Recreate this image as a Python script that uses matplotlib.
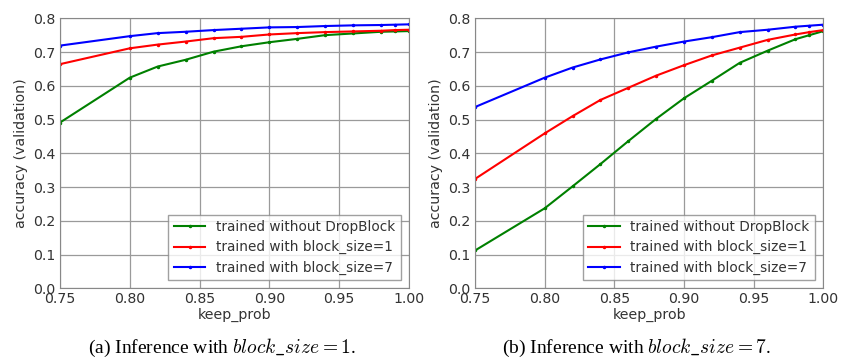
import matplotlib
matplotlib.use("Agg")
import matplotlib.pyplot as plt

keep_prob = [0.75, 0.80, 0.82, 0.84, 0.86, 0.88, 0.90, 0.92, 0.94, 0.96, 0.98, 0.99, 1.00]

# (a) inference with block_size = 1
a_no_drop = [0.491, 0.624, 0.657, 0.677, 0.701, 0.717, 0.729, 0.739, 0.750, 0.755, 0.760, 0.761, 0.762]
a_bs1 = [0.664, 0.711, 0.722, 0.731, 0.741, 0.745, 0.752, 0.756, 0.759, 0.761, 0.763, 0.765, 0.766]
a_bs7 = [0.719, 0.747, 0.756, 0.760, 0.765, 0.769, 0.773, 0.774, 0.777, 0.779, 0.780, 0.781, 0.782]

# (b) inference with block_size = 7
b_no_drop = [0.112, 0.237, 0.302, 0.368, 0.436, 0.502, 0.563, 0.615, 0.668, 0.704, 0.738, 0.750, 0.762]
b_bs1 = [0.324, 0.459, 0.510, 0.558, 0.594, 0.630, 0.661, 0.690, 0.713, 0.736, 0.752, 0.759, 0.765]
b_bs7 = [0.537, 0.624, 0.654, 0.678, 0.699, 0.716, 0.731, 0.744, 0.759, 0.766, 0.775, 0.778, 0.781]

labels = ["trained without DropBlock", "trained with block_size=1", "trained with block_size=7"]
colors = ["#008000", "#ff0000", "#0000ff"]
captions = [r"(a) Inference with $block\_size = 1$.", r"(b) Inference with $block\_size = 7$."]

plt.rcParams["font.family"] = "DejaVu Sans"
plt.rcParams["mathtext.fontset"] = "cm"

fig = plt.figure(figsize=(8.59, 3.61), dpi=100)
ax1 = fig.add_axes([0.0698, 0.2014, 0.4063, 0.748])
ax2 = fig.add_axes([0.553, 0.2014, 0.4055, 0.748])

for ax, series in [(ax1, [a_no_drop, a_bs1, a_bs7]), (ax2, [b_no_drop, b_bs1, b_bs7])]:
    for ys, c, lab in zip(series, colors, labels):
        ax.plot(keep_prob, ys, color=c, lw=1.5, marker=".", ms=3, label=lab)
    ax.set_xlim(0.75, 1.0)
    ax.set_ylim(0.0, 0.8)
    ax.set_xticks([0.75, 0.80, 0.85, 0.90, 0.95, 1.00])
    ax.set_xticklabels(["0.75", "0.80", "0.85", "0.90", "0.95", "1.00"])
    ax.set_yticks([0.0, 0.1, 0.2, 0.3, 0.4, 0.5, 0.6, 0.7, 0.8])
    ax.grid(True, color="#9a9a9a", lw=0.9)
    ax.tick_params(length=0, labelsize=10.2, labelcolor="#333333", pad=3)
    for s in ax.spines.values():
        s.set_color("#888888")
    ax.set_xlabel("keep_prob", fontsize=10.2, color="#333333", labelpad=1)
    ax.set_ylabel("accuracy (validation)", fontsize=10.2, color="#333333", labelpad=4)
    leg = ax.legend(loc="lower right", fontsize=9.8, fancybox=False, handlelength=2.3,
                    borderaxespad=0.6, labelspacing=0.45)
    leg.get_frame().set_edgecolor("#888888")
    for t in leg.get_texts():
        t.set_color("#333333")

fig.text(0.258, 0.036, captions[0], ha="center", va="center", fontsize=14,
         family="Liberation Serif")
fig.text(0.741, 0.036, captions[1], ha="center", va="center", fontsize=14,
         family="Liberation Serif")

fig.savefig("out.png", dpi=100, facecolor="white")
